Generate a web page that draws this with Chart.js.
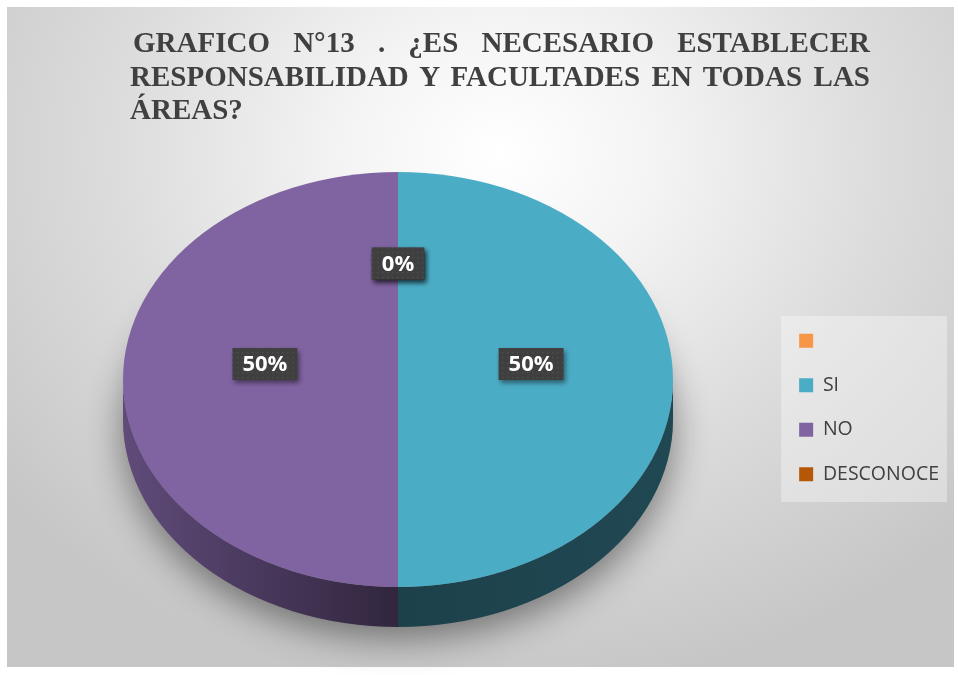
<!DOCTYPE html>
<html>
<head>
<meta charset="utf-8">
<title>Grafico N°13</title>
<script src="https://cdn.jsdelivr.net/npm/chart.js@4.4.0/dist/chart.umd.min.js"></script>
<style>
  html, body { margin: 0; padding: 0; background: #fff; }
  #wrap { position: relative; width: 958px; height: 675px; overflow: hidden; }
  #fondo {
    position: absolute; left: 7px; top: 7px; width: 947px; height: 660px;
    background: radial-gradient(ellipse 68% 82% at 52% 22%, #ffffff 0%, #f4f4f4 24%, #dcdcdc 60%, #c6c6c6 100%);
  }
  #grafico { position: absolute; left: 0; top: 0; }
  #titulo {
    position: absolute; left: 130px; top: 26px; width: 740px; z-index: 2;
    font-family: "Liberation Serif", "Times New Roman", serif; font-weight: bold;
    font-size: 29px; line-height: 33.5px; color: #404040;
  }
  .linea { text-align: justify; text-align-last: justify; }
  .primera { padding-left: 3px; }
  .ultima { text-align: left; text-align-last: left; }
</style>
</head>
<body>
<div id="wrap">
  <div id="fondo"></div>
  <div id="titulo">
    <div class="linea primera">GRAFICO N°13 . ¿ES NECESARIO ESTABLECER</div>
    <div class="linea">RESPONSABILIDAD Y FACULTADES EN TODAS LAS</div>
    <div class="linea ultima">ÁREAS?</div>
  </div>
  <canvas id="grafico" width="958" height="675"></canvas>
</div>
<script>
// Datos del grafico
const categorias = ['', 'SI', 'NO', 'DESCONOCE'];
const porcentajes = [0, 50, 50, 0];
const colores = ['#F79646', '#4BACC6', '#8064A2', '#B65708'];

// Geometria del pastel en perspectiva
const PIE_CX = 398;
const PIE_CY = 379.5;
const ESCALA_Y = 0.7545;
const PROFUNDIDAD = 40;

Chart.defaults.font.family = "'Open Sans', sans-serif";

// Oscurecer un color hex
function sombrear(hex, f) {
  const n = parseInt(hex.slice(1), 16);
  const r = Math.round(((n >> 16) & 255) * f);
  const g = Math.round(((n >> 8) & 255) * f);
  const b = Math.round((n & 255) * f);
  return `rgb(${r}, ${g}, ${b})`;
}

// Textura punteada de las etiquetas
function crearPatron(ctx) {
  const c = document.createElement('canvas');
  c.width = 5; c.height = 5;
  const p = c.getContext('2d');
  p.fillStyle = '#3f3f3f';
  p.fillRect(0, 0, 5, 5);
  p.fillStyle = '#4d4d4d';
  p.fillRect(2, 2, 1.5, 1.5);
  return ctx.createPattern(c, 'repeat');
}

// Fondo claro detras de la leyenda
const fondoLeyenda = {
  id: 'fondoLeyenda',
  beforeDraw(chart) {
    const leyenda = chart.legend;
    if (!leyenda || !leyenda.legendHitBoxes.length) return;
    const cajas = leyenda.legendHitBoxes;
    const izq = Math.min(...cajas.map(c => c.left)) - 18;
    const arriba = Math.min(...cajas.map(c => c.top)) - 15;
    const abajo = Math.max(...cajas.map(c => c.top + c.height)) + 18;
    const der = leyenda.right - 2;
    const ctx = chart.ctx;
    ctx.save();
    ctx.fillStyle = 'rgba(255, 255, 255, 0.35)';
    ctx.fillRect(izq, arriba, der - izq, abajo - arriba);
    ctx.restore();
  }
};

// Pastel 3D: aplana el circulo y dibuja el canto y las etiquetas
const pastel3D = {
  id: 'pastel3D',
  beforeDatasetsDraw(chart) {
    const ctx = chart.ctx;
    const arcos = chart.getDatasetMeta(0).data;
    const { x, y, outerRadius: r } = arcos[0];
    const d = PROFUNDIDAD / ESCALA_Y;

    ctx.save();
    ctx.translate(PIE_CX, PIE_CY);
    ctx.scale(1, ESCALA_Y);
    ctx.translate(-x, -y);

    // sombra bajo el pastel
    ctx.save();
    ctx.shadowColor = 'rgba(0, 0, 0, 0.45)';
    ctx.shadowBlur = 36;
    ctx.shadowOffsetY = 12;
    ctx.fillStyle = '#808080';
    ctx.beginPath();
    ctx.arc(x, y + d, r, 0, Math.PI * 2);
    ctx.fill();
    ctx.restore();

    // canto de cada porcion (solo la mitad inferior es visible)
    arcos.forEach((arco, i) => {
      [0, Math.PI * 2].forEach(desfase => {
        const a0 = Math.max(arco.startAngle - desfase, 0);
        const a1 = Math.min(arco.endAngle - desfase, Math.PI);
        if (a1 <= a0) return;
        const g = ctx.createLinearGradient(x - r, 0, x + r, 0);
        g.addColorStop(0, sombrear(colores[i], 0.75));
        g.addColorStop(0.5, sombrear(colores[i], 0.38));
        g.addColorStop(1, sombrear(colores[i], 0.42));
        ctx.fillStyle = g;
        ctx.beginPath();
        ctx.arc(x, y, r, a0, a1);
        ctx.arc(x, y + d, r, a1, a0, true);
        ctx.closePath();
        ctx.fill();
      });
    });
  },
  afterDatasetsDraw(chart) {
    const ctx = chart.ctx;
    ctx.restore();

    const arcos = chart.getDatasetMeta(0).data;
    const total = porcentajes.reduce((a, b) => a + b, 0);
    const patron = crearPatron(ctx);

    ctx.save();
    ctx.font = "bold 22px 'Open Sans'";
    ctx.textAlign = 'center';
    ctx.textBaseline = 'middle';
    arcos.forEach((arco, i) => {
      const medio = (arco.startAngle + arco.endAngle) / 2;
      const dist = arco.outerRadius * 0.484;
      const px = PIE_CX + dist * Math.cos(medio);
      const py = PIE_CY - 15.5 + dist * ESCALA_Y * Math.sin(medio);
      const texto = Math.round(porcentajes[i] / total * 100) + '%';
      const w = ctx.measureText(texto).width + 20;
      const h = 32;

      ctx.save();
      ctx.shadowColor = 'rgba(0, 0, 0, 0.45)';
      ctx.shadowBlur = 5;
      ctx.shadowOffsetX = 2;
      ctx.shadowOffsetY = 3;
      ctx.fillStyle = patron;
      ctx.fillRect(px - w / 2, py - h / 2, w, h);
      ctx.restore();

      ctx.fillStyle = '#ffffff';
      ctx.fillText(texto, px, py + 1);
    });
    ctx.restore();
  }
};

new Chart(document.getElementById('grafico'), {
  type: 'pie',
  data: {
    labels: categorias,
    datasets: [{
      data: porcentajes,
      backgroundColor: colores,
      borderWidth: 0,
      clip: 1000
    }]
  },
  options: {
    responsive: false,
    animation: false,
    events: [],
    radius: 275,
    layout: {
      padding: { top: 140, bottom: 0, left: 10, right: 9 }
    },
    plugins: {
      title: { display: false },
      tooltip: { enabled: false },
      legend: {
        position: 'right',
        labels: {
          boxWidth: 14,
          boxHeight: 14,
          padding: 25,
          color: '#404040',
          font: { size: 19.5 }
        }
      }
    }
  },
  plugins: [fondoLeyenda, pastel3D]
});
</script>
</body>
</html>
